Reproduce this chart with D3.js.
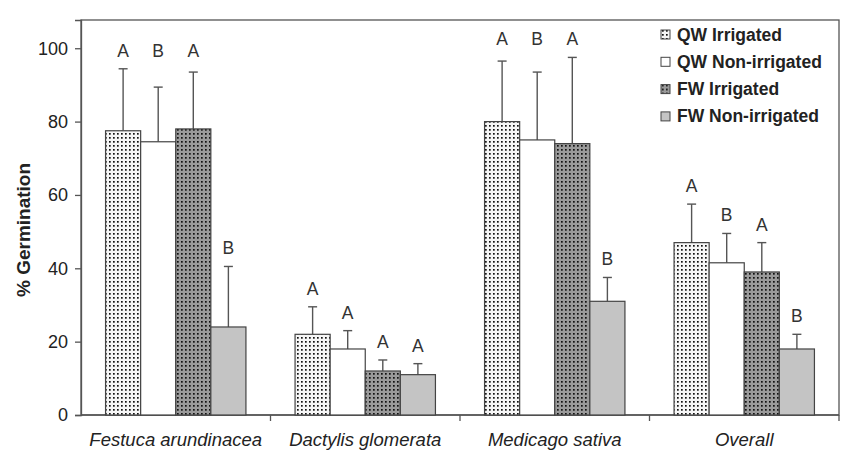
<!DOCTYPE html>
<html>
<head>
<meta charset="utf-8">
<script src="https://cdn.jsdelivr.net/npm/d3@7"></script>
<style>
  body { margin: 0; background: #fff; }
  text { font-family: 'Liberation Sans', Arial, sans-serif; fill: #222; }
</style>
</head>
<body>
<div id="chart"></div>
<script>
// data
const categories = ['Festuca arundinacea', 'Dactylis glomerata', 'Medicago sativa', 'Overall']
const series = ['QW Irrigated', 'QW Non-irrigated', 'FW Irrigated', 'FW Non-irrigated']
const qwIrrigated = [77.5, 22, 80, 47]
const qwIrrigatedErr = [94.4, 29.5, 96.5, 57.5]
const qwNonIrrigated = [74.5, 18, 75, 41.5]
const qwNonIrrigatedErr = [89.4, 23, 93.5, 49.5]
const fwIrrigated = [78, 12, 74, 39]
const fwIrrigatedErr = [93.5, 15, 97.5, 47]
const fwNonIrrigated = [24, 11, 31, 18]
const fwNonIrrigatedErr = [40.5, 14, 37.5, 22]
const letters = [
  ['A', 'B', 'A', 'B'],
  ['A', 'A', 'A', 'A'],
  ['A', 'B', 'A', 'B'],
  ['A', 'B', 'A', 'B']
]
const yTicks = [0, 20, 40, 60, 80, 100]

const means = [qwIrrigated, qwNonIrrigated, fwIrrigated, fwNonIrrigated]
const errs = [qwIrrigatedErr, qwNonIrrigatedErr, fwIrrigatedErr, fwNonIrrigatedErr]

let width = 841
let height = 453
let margin = { top: 20, left: 81, right: 2, bottom: 38 }

let svg = d3.select('#chart')
  .append('svg')
  .attr('width', width)
  .attr('height', height)

let defs = svg.append('defs')

// dotted fills
function dotPattern(id, bg) {
  let p = defs.append('pattern')
    .attr('id', id)
    .attr('patternUnits', 'userSpaceOnUse')
    .attr('width', 4)
    .attr('height', 4)
  p.append('rect').attr('width', 4).attr('height', 4).attr('fill', bg)
  p.append('rect').attr('x', 1).attr('y', 1).attr('width', 1.7).attr('height', 1.7).attr('fill', '#111')
}
dotPattern('dotLight', '#f6f6f6')
dotPattern('dotDark', '#9a9a9a')

let fills = ['url(#dotLight)', '#ffffff', 'url(#dotDark)', '#c4c4c4']

let x0 = d3.scaleBand()
  .domain(categories)
  .range([margin.left, width - margin.right])

let x1 = d3.scaleBand()
  .domain(series)
  .range([0, x0.bandwidth()])
  .paddingOuter(0.7)

let y = d3.scaleLinear()
  .domain([0, 107.7])
  .range([height - margin.bottom, margin.top])

// frame
svg.append('rect')
  .attr('x', margin.left)
  .attr('y', margin.top)
  .attr('width', width - margin.right - margin.left)
  .attr('height', height - margin.bottom - margin.top)
  .attr('fill', 'none')
  .attr('stroke', '#555')
  .attr('stroke-width', 1.3)

// y axis
let yAxis = svg.append('g')
  .attr('transform', 'translate(' + margin.left + ',0)')
  .call(d3.axisLeft(y).tickValues(yTicks).tickSize(6).tickPadding(7))
yAxis.select('.domain').attr('stroke', '#555').attr('stroke-width', 1.3)
yAxis.selectAll('.tick line').attr('stroke', '#555').attr('stroke-width', 1.3)
yAxis.selectAll('.tick text')
  .style('font-family', "'Liberation Sans', Arial, sans-serif")
  .style('font-size', '18px')
  .attr('fill', '#222')

// x axis, ticks at category boundaries
let xAxis = svg.append('g')
  .attr('transform', 'translate(0,' + y(0) + ')')
xAxis.append('line')
  .attr('x1', margin.left)
  .attr('x2', width - margin.right)
  .attr('stroke', '#555')
  .attr('stroke-width', 1.3)
xAxis.selectAll('.xtick')
  .data(categories.slice(1).concat(['end']))
  .enter().append('line')
  .attr('x1', d => d === 'end' ? x0.range()[1] : x0(d))
  .attr('x2', d => d === 'end' ? x0.range()[1] : x0(d))
  .attr('y1', 0)
  .attr('y2', 6)
  .attr('stroke', '#555')
  .attr('stroke-width', 1.3)
xAxis.selectAll('.xlabel')
  .data(categories)
  .enter().append('text')
  .attr('x', d => x0(d) + x0.bandwidth() / 2)
  .attr('y', 31)
  .attr('text-anchor', 'middle')
  .style('font-size', '18.5px')
  .style('font-style', 'italic')
  .text(d => d)

// y label
svg.append('text')
  .attr('transform', 'translate(30,' + 230 + ') rotate(-90)')
  .attr('text-anchor', 'middle')
  .style('font-size', '19px')
  .style('font-weight', 'bold')
  .text('% Germination')

// flatten into one row per bar
let rows = []
categories.forEach((c, i) => {
  series.forEach((s, j) => {
    rows.push({ cat: c, ser: s, si: j, ci: i, mean: means[j][i], err: errs[j][i], letter: letters[i][j] })
  })
})

let bars = svg.append('g')

// error bars (behind the boxes)
bars.selectAll('.err')
  .data(rows)
  .enter().append('line')
  .attr('x1', d => x0(d.cat) + x1(d.ser) + x1.bandwidth() / 2)
  .attr('x2', d => x0(d.cat) + x1(d.ser) + x1.bandwidth() / 2)
  .attr('y1', d => y(d.mean))
  .attr('y2', d => y(d.err))
  .attr('stroke', '#555')
  .attr('stroke-width', 1.4)
bars.selectAll('.cap')
  .data(rows)
  .enter().append('line')
  .attr('x1', d => x0(d.cat) + x1(d.ser) + x1.bandwidth() / 2 - 4.5)
  .attr('x2', d => x0(d.cat) + x1(d.ser) + x1.bandwidth() / 2 + 4.5)
  .attr('y1', d => y(d.err))
  .attr('y2', d => y(d.err))
  .attr('stroke', '#555')
  .attr('stroke-width', 1.4)

bars.selectAll('.bar')
  .data(rows)
  .enter().append('rect')
  .attr('x', d => x0(d.cat) + x1(d.ser))
  .attr('y', d => y(d.mean))
  .attr('width', x1.bandwidth())
  .attr('height', d => y(0) - y(d.mean))
  .attr('fill', d => fills[d.si])
  .attr('stroke', '#444')
  .attr('stroke-width', 1.2)

// significance letters; the tall bars of a group share one level
bars.selectAll('.letter')
  .data(rows)
  .enter().append('text')
  .attr('x', d => x0(d.cat) + x1(d.ser) + x1.bandwidth() / 2)
  .attr('y', d => {
    let level = d.err > 80 ? d3.max(errs, e => e[d.ci]) : d.err
    return y(level) - 12
  })
  .attr('text-anchor', 'middle')
  .style('font-size', '17.5px')
  .style('fill', '#333')
  .text(d => d.letter)

// legend
let legend = svg.append('g')
  .attr('transform', 'translate(661,29)')
let item = legend.selectAll('.item')
  .data(series)
  .enter().append('g')
  .attr('transform', (d, i) => 'translate(0,' + i * 27.3 + ')')
item.append('rect')
  .attr('width', 9)
  .attr('height', 9)
  .attr('y', 1)
  .attr('fill', (d, i) => fills[i])
  .attr('stroke', '#444')
  .attr('stroke-width', 1)
item.append('text')
  .attr('x', 16)
  .attr('y', 11.5)
  .style('font-size', '17.5px')
  .style('font-weight', 'bold')
  .text(d => d)
</script>
</body>
</html>
